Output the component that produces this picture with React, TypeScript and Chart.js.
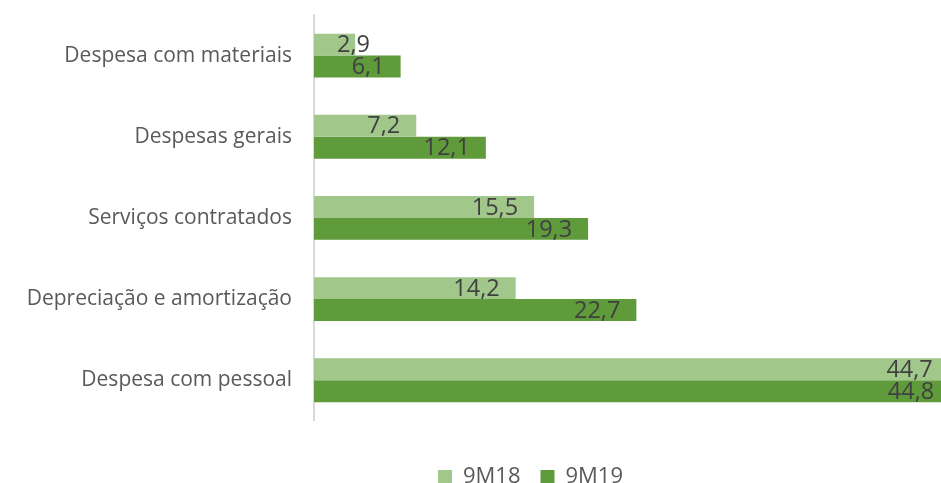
import React, { useEffect, useRef } from "react";
import { Chart, registerables } from "chart.js";

Chart.register(...registerables);

const categories = [
  "Despesa com materiais",
  "Despesas gerais",
  "Serviços contratados",
  "Depreciação e amortização",
  "Despesa com pessoal",
];
const series9M18 = [2.9, 7.2, 15.5, 14.2, 44.7];
const series9M19 = [6.1, 12.1, 19.3, 22.7, 44.8];
const seriesNames = ["9M18", "9M19"];
const xMax = 52.6;

const FONT = "'Open Sans', 'Noto Sans', sans-serif";
const W = 1061;
const H = 498;

const labelPlugin = {
  id: "barLabels",
  afterDatasetsDraw(chart: any) {
    const ctx = chart.ctx;
    const area = chart.chartArea;
    ctx.save();
    ctx.font = `23.5px ${FONT}`;
    ctx.fillStyle = "#404040";
    ctx.textBaseline = "middle";
    ctx.textAlign = "left";
    chart.data.datasets.forEach((ds: any, di: number) => {
      const meta = chart.getDatasetMeta(di);
      meta.data.forEach((bar: any, i: number) => {
        const v = ds.data[i];
        const txt = v.toFixed(1).replace(".", ",");
        const w = ctx.measureText(txt).width;
        let left = bar.x - 16 - w;
        if (left < area.left + 23) left = area.left + 23;
        ctx.fillText(txt, left, bar.y + 1);
      });
    });
    ctx.restore();
  },
};

export default function App() {
  const ref = useRef<HTMLCanvasElement>(null);
  useEffect(() => {
    document.body.style.margin = "0";
    document.body.style.overflow = "hidden";
    const chart = new Chart(ref.current!, {
      type: "bar",
      data: {
        labels: categories,
        datasets: [
          {
            label: seriesNames[0],
            data: series9M18,
            backgroundColor: "#a1c78b",
            categoryPercentage: 0.54,
            barPercentage: 1,
          },
          {
            label: seriesNames[1],
            data: series9M19,
            backgroundColor: "#5f9a3b",
            categoryPercentage: 0.54,
            barPercentage: 1,
          },
        ],
      },
      options: {
        indexAxis: "y",
        animation: false,
        responsive: false,
        maintainAspectRatio: false,
        layout: { padding: { left: 0, right: 0, top: 15, bottom: 0 } },
        scales: {
          x: { display: false, min: 0, max: xMax },
          y: {
            afterFit: (s: any) => {
              s.width = 314;
              s.paddingTop = 0;
              s.paddingBottom = 0;
            },
            grid: { display: false, drawTicks: false },
            border: { display: true, color: "#d9d9d9", width: 2 },
            ticks: {
              color: "#595959",
              font: { family: FONT, size: 21 },
              padding: 22,
            },
          },
        },
        plugins: {
          legend: {
            position: "bottom",
            title: {
              display: true,
              text: "",
              font: { family: FONT, size: 21 },
              padding: 0,
            },
            labels: {
              color: "#595959",
              font: { family: FONT, size: 22 },
              boxWidth: 14,
              boxHeight: 14,
              padding: 20,
            },
          },
          tooltip: { enabled: false },
        },
      },
      plugins: [labelPlugin],
    });
    return () => chart.destroy();
  }, []);
  return (
    <div style={{ position: "absolute", left: 0, top: 0, width: W, height: H }}>
      <canvas ref={ref} width={W} height={H} style={{ width: W, height: H }} />
    </div>
  );
}
